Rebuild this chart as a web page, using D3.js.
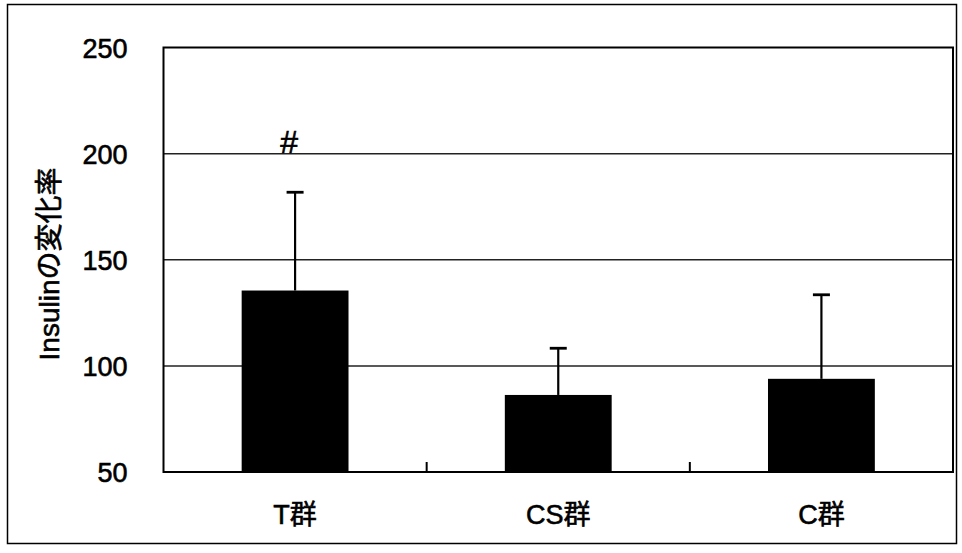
<!DOCTYPE html>
<html><head><meta charset="utf-8">
<script src="https://cdn.jsdelivr.net/npm/d3@7"></script>
<style>
html,body{margin:0;padding:0;background:#fff;}
text{font-family:"Liberation Sans","Noto Sans CJK JP",Arial,sans-serif;fill:#000;stroke:#000;stroke-width:0.6px;}
</style></head><body>
<svg id="c" width="962" height="553"></svg>
<script>
const categories = ["T群", "CS群", "C群"];
const values = [135.5, 86.3, 93.9];
const errors = [46.3, 22.0, 39.6];
const yTicks = [50, 100, 150, 200, 250];
const marks = ["#", "", ""];
const yTitle = "Insulinの変化率";

const svg = d3.select("#c");
const L = 163.5, R = 953, T = 47.5, B = 472;

// outer border
svg.append("rect").attr("x", 7.5).attr("y", 4.5).attr("width", 949).attr("height", 539)
  .attr("fill", "none").attr("stroke", "#000").attr("stroke-width", 1.5);

const x = d3.scaleBand().domain(categories).range([L, R]).paddingInner(0.594).paddingOuter(0.297);
const y = d3.scaleLinear().domain([50, 250]).range([B, T]);

// gridlines
svg.append("g").selectAll("line").data(yTicks.filter(v => v > 50 && v < 250)).join("line")
  .attr("x1", L).attr("x2", R).attr("y1", d => y(d)).attr("y2", d => y(d))
  .attr("stroke", "#222").attr("stroke-width", 1.5);

// bars
svg.append("g").selectAll("rect").data(values).join("rect")
  .attr("x", (d, i) => x(categories[i])).attr("width", x.bandwidth())
  .attr("y", d => y(d)).attr("height", d => B - y(d)).attr("fill", "#000");

// error bars
const eg = svg.append("g");
values.forEach((v, i) => {
  const cx = x(categories[i]) + x.bandwidth() / 2;
  eg.append("line").attr("x1", cx).attr("x2", cx).attr("y1", y(v)).attr("y2", y(v + errors[i]))
    .attr("stroke", "#000").attr("stroke-width", 2.2);
  eg.append("line").attr("x1", cx - 8.5).attr("x2", cx + 8.5).attr("y1", y(v + errors[i])).attr("y2", y(v + errors[i]))
    .attr("stroke", "#000").attr("stroke-width", 2.8);
});

// plot frame
svg.append("rect").attr("x", L).attr("y", T).attr("width", R - L).attr("height", B - T)
  .attr("fill", "none").attr("stroke", "#000").attr("stroke-width", 2);

// x category separator ticks
svg.append("g").selectAll("line").data([1, 2]).join("line")
  .attr("x1", d => L + d * (R - L) / 3).attr("x2", d => L + d * (R - L) / 3)
  .attr("y1", B).attr("y2", B - 10).attr("stroke", "#000").attr("stroke-width", 2);

// y axis labels
const yAxis = d3.axisLeft(y).tickValues(yTicks).tickSize(0).tickPadding(36).tickFormat(d3.format("d"));
const ga = svg.append("g").attr("transform", `translate(${L},0)`).call(yAxis);
ga.select(".domain").remove();
ga.selectAll("text").attr("font-size", 27).attr("font-family", "Liberation Sans, Arial, sans-serif")
  .attr("fill", "#000").attr("stroke", "#000").attr("stroke-width", 0.6).attr("dy", "0.36em");

// x axis labels
const xAxis = d3.axisBottom(x).tickSize(0).tickPadding(32);
const gx = svg.append("g").attr("transform", `translate(0,${B})`).call(xAxis);
gx.select(".domain").remove();
gx.selectAll("text").attr("font-size", 27).attr("font-family", "Liberation Sans, Noto Sans CJK JP, sans-serif")
  .attr("fill", "#000").attr("stroke", "#000").attr("stroke-width", 0.6).attr("dy", "0.75em");

// marks
svg.append("g").selectAll("text").data(marks).join("text")
  .attr("x", (d, i) => x(categories[i]) + x.bandwidth() / 2 - 6)
  .attr("y", y(200) - 1).attr("text-anchor", "middle").attr("font-size", 32).text(d => d);

// y title
svg.append("text").attr("transform", "translate(59,264) rotate(-90)")
  .attr("text-anchor", "middle").attr("font-size", 28).text(yTitle);
</script>
</body></html>
